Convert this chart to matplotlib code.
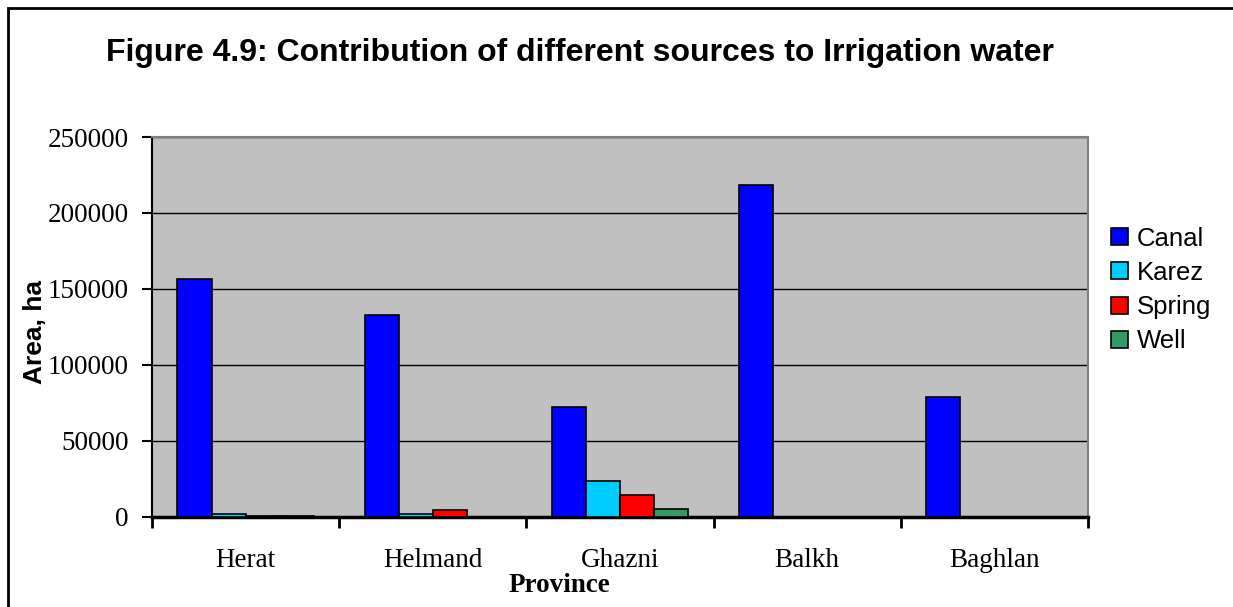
import numpy as np
import matplotlib.pyplot as plt
from matplotlib.patches import Rectangle

# Data
provinces = ["Herat", "Helmand", "Ghazni", "Balkh", "Baghlan"]
canal = [156500, 132800, 72300, 218300, 78800]
karez = [2000, 2000, 23700, 0, 0]
spring = [800, 4600, 14300, 0, 0]
well = [600, 0, 5000, 0, 0]

series = ["Canal", "Karez", "Spring", "Well"]
colors = ["#0000FF", "#00CCFF", "#FF0000", "#339966"]
yticks = [0, 50000, 100000, 150000, 200000, 250000]

plt.rcParams['font.family'] = ['Liberation Serif', 'DejaVu Serif']

fig = plt.figure(figsize=(12.33, 6.07), dpi=100)
ax = fig.add_axes([152 / 1233, 1 - 517 / 607, 936 / 1233, 380 / 607])

# frame around the whole chart
fig.patches.append(Rectangle((8 / 1233, -0.1), 1.2, 1 - 8 / 607 + 0.1,
                             transform=fig.transFigure, fill=False,
                             edgecolor="black", linewidth=2))

x = np.arange(len(provinces))
width = 0.182
values = [canal, karez, spring, well]
for i, (name, vals, col) in enumerate(zip(series, values, colors)):
    ax.bar(x + (i - 1.5) * width, vals, width, color=col, edgecolor="black",
           linewidth=1.2, label=name, zorder=3)

ax.set_facecolor("#C0C0C0")
ax.set_xlim(-0.5, len(provinces) - 0.5)
ax.set_ylim(0, 250000)
ax.set_yticks(yticks)
ax.set_yticklabels([str(v) for v in yticks], fontsize=19.5)
ax.yaxis.grid(True, color="black", linewidth=1)
ax.set_axisbelow(True)

ax.set_xticks(x)
ax.set_xticklabels(provinces, fontsize=19.5)
ax.tick_params(axis="x", length=0, pad=22)
ax.set_xticks(np.arange(-0.5, len(provinces), 1), minor=True)
ax.tick_params(axis="x", which="minor", length=8, width=2)
ax.tick_params(axis="y", length=7, width=1.5, pad=10)

for s in ["top", "right"]:
    ax.spines[s].set_color("#808080")
    ax.spines[s].set_linewidth(1.5)
ax.spines["left"].set_linewidth(1.5)
ax.spines["bottom"].set_linewidth(2.5)

ax.set_xlabel("Province", fontsize=19.5, fontweight="bold")
ax.xaxis.set_label_coords((559 - 152) / 936, -(585 - 517) / 380)
ax.xaxis.label.set_va("center")
ax.set_ylabel("Area, ha", fontsize=19, fontweight="bold",
              family=["Liberation Sans", "DejaVu Sans"])
ax.yaxis.set_label_coords(-(152 - 35) / 936, (517 - 332) / 380)
ax.yaxis.label.set_va("center")

fig.text(580 / 1233, 1 - 53 / 607, "Figure 4.9: Contribution of different sources to Irrigation water",
         ha="center", va="center", fontsize=23, fontweight="bold",
         family=["Liberation Sans", "DejaVu Sans"])

leg = ax.legend(loc="center left", bbox_to_anchor=(1.014, (517 - 290) / 380),
                frameon=False, prop={"family": ["Liberation Sans", "DejaVu Sans"], "size": 18.5},
                handlelength=0.65, handleheight=0.65, handletextpad=0.35, labelspacing=0.4,
                borderaxespad=0)

fig.savefig("out.png", dpi=100)
